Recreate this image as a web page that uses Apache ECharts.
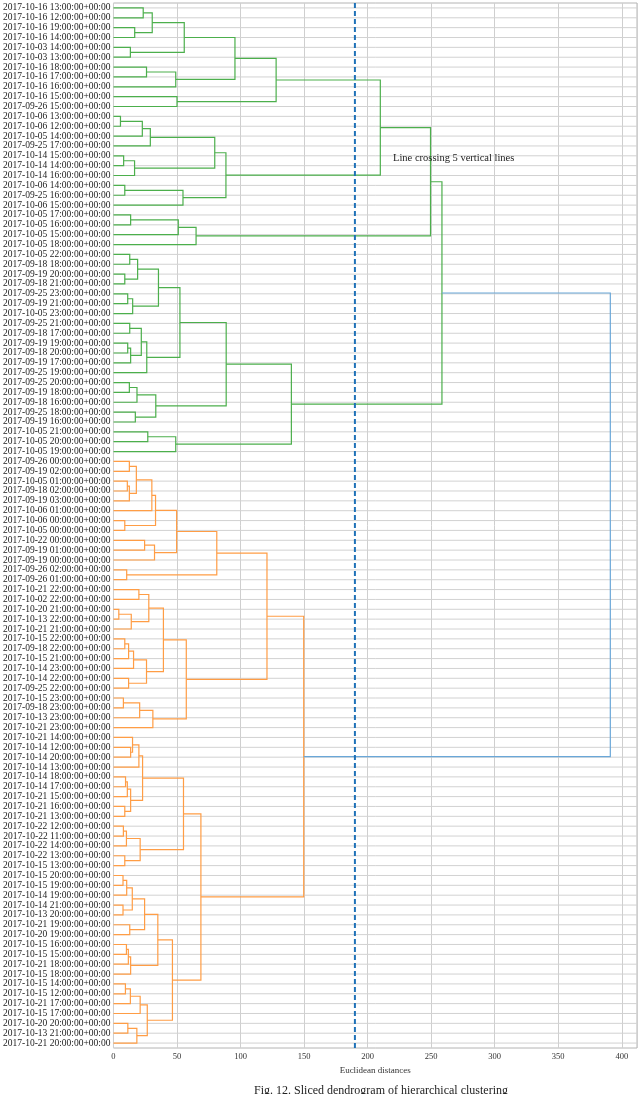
<!DOCTYPE html>
<html>
<head>
<meta charset="utf-8">
<title>Sliced dendrogram</title>
<script src="https://cdn.jsdelivr.net/npm/echarts@6/dist/echarts.min.js"></script>
<style>
  html, body { margin: 0; padding: 0; background: #fff; }
  #dendrogram { width: 640px; height: 1094px; }
</style>
</head>
<body>
<div id="dendrogram"></div>
<script>
// leaves, top to bottom
const leafLabels = [
  '2017-10-16 13:00:00+00:00', '2017-10-16 12:00:00+00:00', '2017-10-16 19:00:00+00:00', '2017-10-16 14:00:00+00:00',
  '2017-10-03 14:00:00+00:00', '2017-10-03 13:00:00+00:00', '2017-10-16 18:00:00+00:00', '2017-10-16 17:00:00+00:00',
  '2017-10-16 16:00:00+00:00', '2017-10-16 15:00:00+00:00', '2017-09-26 15:00:00+00:00', '2017-10-06 13:00:00+00:00',
  '2017-10-06 12:00:00+00:00', '2017-10-05 14:00:00+00:00', '2017-09-25 17:00:00+00:00', '2017-10-14 15:00:00+00:00',
  '2017-10-14 14:00:00+00:00', '2017-10-14 16:00:00+00:00', '2017-10-06 14:00:00+00:00', '2017-09-25 16:00:00+00:00',
  '2017-10-06 15:00:00+00:00', '2017-10-05 17:00:00+00:00', '2017-10-05 16:00:00+00:00', '2017-10-05 15:00:00+00:00',
  '2017-10-05 18:00:00+00:00', '2017-10-05 22:00:00+00:00', '2017-09-18 18:00:00+00:00', '2017-09-19 20:00:00+00:00',
  '2017-09-18 21:00:00+00:00', '2017-09-25 23:00:00+00:00', '2017-09-19 21:00:00+00:00', '2017-10-05 23:00:00+00:00',
  '2017-09-25 21:00:00+00:00', '2017-09-18 17:00:00+00:00', '2017-09-19 19:00:00+00:00', '2017-09-18 20:00:00+00:00',
  '2017-09-19 17:00:00+00:00', '2017-09-25 19:00:00+00:00', '2017-09-25 20:00:00+00:00', '2017-09-19 18:00:00+00:00',
  '2017-09-18 16:00:00+00:00', '2017-09-25 18:00:00+00:00', '2017-09-19 16:00:00+00:00', '2017-10-05 21:00:00+00:00',
  '2017-10-05 20:00:00+00:00', '2017-10-05 19:00:00+00:00', '2017-09-26 00:00:00+00:00', '2017-09-19 02:00:00+00:00',
  '2017-10-05 01:00:00+00:00', '2017-09-18 02:00:00+00:00', '2017-09-19 03:00:00+00:00', '2017-10-06 01:00:00+00:00',
  '2017-10-06 00:00:00+00:00', '2017-10-05 00:00:00+00:00', '2017-10-22 00:00:00+00:00', '2017-09-19 01:00:00+00:00',
  '2017-09-19 00:00:00+00:00', '2017-09-26 02:00:00+00:00', '2017-09-26 01:00:00+00:00', '2017-10-21 22:00:00+00:00',
  '2017-10-02 22:00:00+00:00', '2017-10-20 21:00:00+00:00', '2017-10-13 22:00:00+00:00', '2017-10-21 21:00:00+00:00',
  '2017-10-15 22:00:00+00:00', '2017-09-18 22:00:00+00:00', '2017-10-15 21:00:00+00:00', '2017-10-14 23:00:00+00:00',
  '2017-10-14 22:00:00+00:00', '2017-09-25 22:00:00+00:00', '2017-10-15 23:00:00+00:00', '2017-09-18 23:00:00+00:00',
  '2017-10-13 23:00:00+00:00', '2017-10-21 23:00:00+00:00', '2017-10-21 14:00:00+00:00', '2017-10-14 12:00:00+00:00',
  '2017-10-14 20:00:00+00:00', '2017-10-14 13:00:00+00:00', '2017-10-14 18:00:00+00:00', '2017-10-14 17:00:00+00:00',
  '2017-10-21 15:00:00+00:00', '2017-10-21 16:00:00+00:00', '2017-10-21 13:00:00+00:00', '2017-10-22 12:00:00+00:00',
  '2017-10-22 11:00:00+00:00', '2017-10-22 14:00:00+00:00', '2017-10-22 13:00:00+00:00', '2017-10-15 13:00:00+00:00',
  '2017-10-15 20:00:00+00:00', '2017-10-15 19:00:00+00:00', '2017-10-14 19:00:00+00:00', '2017-10-14 21:00:00+00:00',
  '2017-10-13 20:00:00+00:00', '2017-10-21 19:00:00+00:00', '2017-10-20 19:00:00+00:00', '2017-10-15 16:00:00+00:00',
  '2017-10-15 15:00:00+00:00', '2017-10-21 18:00:00+00:00', '2017-10-15 18:00:00+00:00', '2017-10-15 14:00:00+00:00',
  '2017-10-15 12:00:00+00:00', '2017-10-21 17:00:00+00:00', '2017-10-15 17:00:00+00:00', '2017-10-20 20:00:00+00:00',
  '2017-10-13 21:00:00+00:00', '2017-10-21 20:00:00+00:00'
]

// merges like a scipy linkage: [child a, child b, distance]; ids >= leaf count point at earlier merges
const linkage = [
  [0, 1, 23.4], [2, 3, 16.7], [106, 107, 30.5], [4, 5, 13.3], [108, 109, 55.7],
  [6, 7, 26], [111, 8, 49], [110, 112, 95.6], [9, 10, 50], [113, 114, 128],
  [11, 12, 5.5], [116, 13, 22.7], [117, 14, 29], [15, 16, 8], [119, 17, 16.6],
  [118, 120, 79.7], [18, 19, 8.9], [122, 20, 54.7], [121, 123, 88.5], [115, 124, 210],
  [21, 22, 13.5], [126, 23, 51], [127, 24, 65], [125, 128, 249.5], [25, 26, 12.8],
  [27, 28, 8.9], [130, 131, 19], [29, 30, 11.2], [133, 31, 15.1], [132, 134, 35.4],
  [32, 33, 12.8], [34, 35, 11.2], [137, 36, 13.5], [136, 138, 21.9], [139, 37, 26.2],
  [135, 140, 52.3], [38, 39, 12.5], [142, 40, 18.5], [41, 42, 17.2], [143, 144, 33.3],
  [141, 145, 88.7], [43, 44, 27], [147, 45, 49], [146, 148, 140], [129, 149, 258.5],
  [46, 47, 12.5], [48, 49, 10.9], [152, 50, 12.5], [151, 153, 18], [154, 51, 30.2],
  [52, 53, 8.9], [155, 156, 33.1], [54, 55, 24.5], [158, 56, 32.3], [157, 159, 49.7],
  [57, 58, 10.4], [160, 161, 81.3], [59, 60, 20], [61, 62, 4.2], [164, 63, 14],
  [163, 165, 27.8], [64, 65, 8.9], [167, 66, 11.9], [168, 67, 15.8], [68, 69, 11.9],
  [169, 170, 26], [166, 171, 39.3], [70, 71, 7.8], [173, 72, 20.6], [174, 73, 31],
  [172, 175, 57.3], [162, 176, 120.8], [75, 76, 13.5], [74, 178, 15], [179, 77, 20],
  [78, 79, 9.5], [181, 80, 10.9], [81, 82, 8.9], [182, 183, 13.5], [180, 184, 22.9],
  [83, 84, 7.8], [186, 85, 10.2], [86, 87, 8.9], [187, 188, 21], [185, 189, 55.1],
  [88, 89, 7.5], [191, 90, 10.4], [91, 92, 7.5], [192, 193, 14.8], [93, 94, 12.8],
  [194, 195, 24.5], [95, 96, 10.2], [197, 97, 11.7], [198, 98, 13.5], [196, 199, 34.9],
  [99, 100, 9.4], [201, 101, 13.3], [202, 102, 21], [103, 104, 11.3], [204, 105, 18.4],
  [203, 205, 26.6], [200, 206, 46.4], [190, 207, 68.8], [177, 208, 149.7], [150, 209, 391]
]

const xTicks = [0, 50, 100, 150, 200, 250, 300, 350, 400]
const cutHeight = 190
const annotation = { text: 'Line crossing 5 vertical lines', x: 220, y: 15.2 }

const clusterColors = ['#4caf4c', '#ff9d45']
const aboveColor = '#6aa7d8'
const fontFamily = '"Liberation Serif", "DejaVu Serif", serif'

// node positions: leaves sit at their index, merges halfway between children
const n = leafLabels.length
const nodeX = []
const nodeY = []
for (let i = 0; i < n; i++) {
  nodeX[i] = 0
  nodeY[i] = i
}
linkage.forEach(function (l, k) {
  nodeX[n + k] = l[2]
  nodeY[n + k] = (nodeY[l[0]] + nodeY[l[1]]) / 2
})

// colour like scipy: clusters under 0.7 * max distance get their own colour
const colorThreshold = 0.7 * Math.max.apply(null, linkage.map(function (l) { return l[2] }))
const linkColor = []
let clusterCount = 0
function paint (id, color) {
  if (id < n) return
  linkColor[id - n] = color
  paint(linkage[id - n][0], color)
  paint(linkage[id - n][1], color)
}
function assign (id) {
  if (id < n) return
  const l = linkage[id - n]
  if (l[2] >= colorThreshold) {
    linkColor[id - n] = aboveColor
    assign(l[0])
    assign(l[1])
  } else {
    paint(id, clusterColors[clusterCount++ % clusterColors.length])
  }
}
assign(n + linkage.length - 1)

const linkData = linkage.map(function (l) {
  return [nodeX[l[0]], nodeY[l[0]], l[2], nodeY[l[1]], nodeX[l[1]]]
})
const rowData = leafLabels.map(function (_, i) { return [0, i] })

const chart = echarts.init(document.getElementById('dendrogram'))
const option = {
  animation: false,
  backgroundColor: '#fff',
  textStyle: { fontFamily: fontFamily },
  grid: {
    left: 112,
    right: 1,
    top: 3,
    bottom: 46,
    show: true,
    borderColor: '#b4b4b4',
    borderWidth: 1
  },
  xAxis: {
    type: 'value',
    min: 0,
    max: 412,
    interval: 50,
    name: 'Euclidean distances',
    nameLocation: 'middle',
    nameGap: 15,
    nameTextStyle: { fontSize: 9, color: '#333', fontFamily: fontFamily },
    axisLine: { show: false },
    axisTick: { show: false },
    axisLabel: {
      fontSize: 8.5,
      color: '#333',
      margin: 4,
      fontFamily: fontFamily,
      formatter: function (v) { return xTicks.indexOf(v) >= 0 ? String(v) : '' }
    },
    splitLine: { show: true, lineStyle: { color: '#cfcfcf', width: 1 } }
  },
  yAxis: [{
    type: 'category',
    data: leafLabels,
    inverse: true,
    axisLine: { show: false },
    axisTick: { show: false },
    splitLine: { show: false },
    axisLabel: {
      interval: 0,
      fontSize: 9.5,
      color: '#222',
      margin: 3,
      fontFamily: fontFamily
    }
  }, {
    type: 'value',
    min: -0.5,
    max: n - 0.5,
    inverse: true,
    show: false
  }],
  series: [{
    // horizontal grid at each leaf
    type: 'custom',
    xAxisIndex: 0,
    yAxisIndex: 1,
    silent: true,
    z: 1,
    encode: { x: 0, y: 1 },
    data: rowData,
    renderItem: function (params, api) {
      const y = api.coord([0, api.value(1)])[1]
      return {
        type: 'line',
        shape: { x1: params.coordSys.x, y1: y, x2: params.coordSys.x + params.coordSys.width, y2: y },
        style: { stroke: '#d2d2d2', lineWidth: 1 }
      }
    }
  }, {
    type: 'custom',
    name: 'links',
    xAxisIndex: 0,
    yAxisIndex: 1,
    z: 3,
    encode: { x: [0, 2, 4], y: [1, 3] },
    data: linkData,
    renderItem: function (params, api) {
      const h = api.value(2)
      const pts = [
        api.coord([api.value(0), api.value(1)]),
        api.coord([h, api.value(1)]),
        api.coord([h, api.value(3)]),
        api.coord([api.value(4), api.value(3)])
      ]
      return {
        type: 'polyline',
        shape: { points: pts },
        style: { stroke: linkColor[params.dataIndex], fill: null, lineWidth: 1.2 }
      }
    }
  }, {
    // cut line
    type: 'custom',
    xAxisIndex: 0,
    yAxisIndex: 1,
    z: 4,
    encode: { x: 0 },
    data: [[cutHeight]],
    renderItem: function (params, api) {
      const top = api.coord([api.value(0), -0.5])
      const bottom = api.coord([api.value(0), n - 0.5])
      return {
        type: 'line',
        shape: { x1: top[0], y1: top[1], x2: bottom[0], y2: bottom[1] },
        style: { stroke: '#1f72b8', lineWidth: 2, lineDash: [5, 3] }
      }
    }
  }, {
    type: 'custom',
    xAxisIndex: 0,
    yAxisIndex: 1,
    z: 5,
    encode: { x: 0, y: 1 },
    data: [[annotation.x, annotation.y]],
    renderItem: function (params, api) {
      const p = api.coord([api.value(0), api.value(1)])
      return {
        type: 'text',
        style: {
          x: p[0],
          y: p[1],
          text: annotation.text,
          fill: '#222',
          font: '10.5px ' + fontFamily,
          textVerticalAlign: 'middle'
        }
      }
    }
  }],
  graphic: [{
    type: 'text',
    x: 381,
    y: 1085,
    style: {
      text: 'Fig. 12. Sliced dendrogram of hierarchical clustering',
      fill: '#222',
      font: '12px ' + fontFamily,
      textAlign: 'center'
    }
  }]
}
chart.setOption(option)
</script>
</body>
</html>
